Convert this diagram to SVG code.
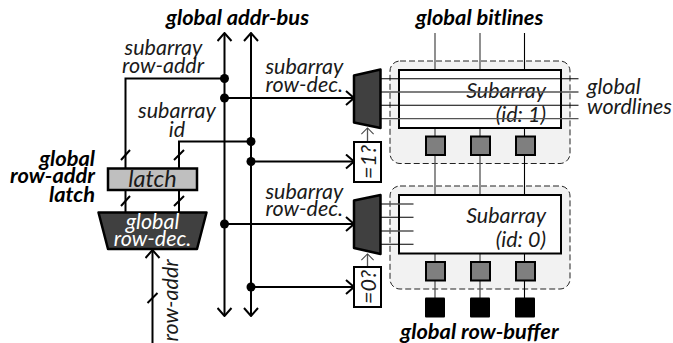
<svg xmlns="http://www.w3.org/2000/svg" width="673" height="343" viewBox="0 0 673 343">
<defs>
<style>
text{font-family:"Lato","Open Sans",sans-serif;font-style:italic;fill:#1a1a1a;font-size:21.500px}
.b{font-weight:700;fill:#000;font-size:21.800px}
.m{text-anchor:middle}.e{text-anchor:end}
.w{stroke:#000;stroke-width:2;fill:none}
.t{stroke:#000;stroke-width:1.1;fill:none}
.g{stroke:#555;stroke-width:1.3;fill:none}
.s{fill:#000;stroke:none}
.sa{fill:#f2f2f2;stroke:#222;stroke-width:1;stroke-dasharray:6 3}
.box{fill:#fff;stroke:#000;stroke-width:2}
.sq{fill:#7f7f7f;stroke:#000;stroke-width:2}
.mux{fill:#404040;stroke:#000;stroke-width:2.500;stroke-linejoin:round}
</style>
<marker id="a" viewBox="0 0 16 16" refX="15" refY="8" markerWidth="16" markerHeight="16" markerUnits="userSpaceOnUse" orient="auto-start-reverse"><path d="M7 1L15 8L7 15" fill="none" stroke="#000" stroke-width="2"/></marker>
<marker id="a2" viewBox="0 0 16 16" refX="15" refY="8" markerWidth="14" markerHeight="14" markerUnits="userSpaceOnUse" orient="auto"><path d="M8 1L15 8L8 15" fill="none" stroke="#444" stroke-width="1.2"/></marker>
</defs>
<g id="subarray-1-bg"><rect class="sa" x="390" y="61" width="180" height="102.500" rx="10"/></g>
<g id="subarray-0-bg"><rect class="sa" x="390" y="186" width="180" height="103" rx="10"/></g>
<g id="connectors">
<path class="w" d="M224.500 33V316" marker-start="url(#a)" marker-end="url(#a)"/>
<path class="w" d="M251 33V316" marker-start="url(#a)" marker-end="url(#a)"/>
<path class="w" d="M224.500 78.500H125.500V168"/>
<path class="w" d="M224.500 98H354" marker-end="url(#a)"/>
<path class="w" d="M251 141.500H179V168"/>
<path class="w" d="M251 161.500H354" marker-end="url(#a)"/>
<path class="w" d="M224.500 224H354" marker-end="url(#a)"/>
<path class="w" d="M251 287H354" marker-end="url(#a)"/>
<path class="w" d="M125.500 191V212M179 191V212"/>
<path class="w" d="M152.500 343V250" marker-end="url(#a)"/>
<path class="w" d="M121 160L130 150M174 160L184 150M121 206L130 196M174 206L184 196M147.500 303L157.500 293"/>
<path class="g" d="M367.500 141V128" marker-end="url(#a2)"/>
<path class="g" d="M367.500 266V254" marker-end="url(#a2)"/>
<path class="g" d="M435 33V70M435 128V136M435 155V195M435 254V262M435 281V298"/>
<path class="g" d="M480 33V70M480 128V136M480 155V195M480 254V262M480 281V298"/>
<path class="t" d="M524.500 33V70M524.500 128V136M524.500 155V195M524.500 254V262M524.500 281V298"/>
<circle class="s" cx="224.500" cy="78.500" r="4.500"/><circle class="s" cx="224.500" cy="98" r="4.500"/>
<circle class="s" cx="251" cy="141.500" r="4.500"/><circle class="s" cx="251" cy="161.500" r="4.500"/>
<circle class="s" cx="224.500" cy="224" r="4.500"/><circle class="s" cx="251" cy="287" r="4.500"/>
</g>
<g id="subarray-1"><rect class="box" x="399" y="70" width="162" height="58"/>
<text x="546" y="97.500" class="e">Subarray</text><text x="546" y="121.500" class="e">(id: 1)</text></g>
<g id="subarray-0"><rect class="box" x="399" y="195" width="162" height="58.500"/>
<text x="546" y="222.500" class="e">Subarray</text><text x="546" y="246.500" class="e">(id: 0)</text></g>
<g id="wordlines">
<path class="t" d="M381 78.700H578.500M381 105.300H578.500"/>
<path class="g" d="M381 92H578.500M381 118.700H578.500"/>
<path class="t" d="M381 217.300H413.500M381 244.300H413.500"/>
<path class="g" d="M381 204H413.500M381 231H413.500"/>
</g>
<g id="mux-1"><path class="mux" d="M354 75.500L380.500 69.500V128L354 122.500Z"/></g>
<g id="mux-0"><path class="mux" d="M354 200.500L380.500 195V254L354 248Z"/></g>
<g id="cmp-1"><rect class="box" x="354" y="142" width="27" height="40"/><text transform="translate(376,162) rotate(-90)" class="m">=1?</text></g>
<g id="cmp-0"><rect class="box" x="354" y="267" width="27" height="40"/><text transform="translate(376,287) rotate(-90)" class="m">=0?</text></g>
<g id="sense">
<rect class="sq" x="426" y="136.500" width="19" height="18.500"/><rect class="sq" x="471" y="136.500" width="19" height="18.500"/><rect class="sq" x="516" y="136.500" width="19" height="18.500"/>
<rect class="sq" x="426" y="262" width="19" height="18.500"/><rect class="sq" x="471" y="262" width="19" height="18.500"/><rect class="sq" x="516" y="262" width="19" height="18.500"/>
</g>
<g id="global-row-buffer">
<rect class="s" x="425" y="297.500" width="20" height="20" rx="1"/><rect class="s" x="470" y="297.500" width="20" height="20" rx="1"/><rect class="s" x="515" y="297.500" width="20" height="20" rx="1"/>
<text x="479.500" y="339" class="b m">global row-buffer</text></g>
<g id="latch"><rect x="108" y="168.500" width="89" height="21.500" fill="#bfbfbf" stroke="#000" stroke-width="2.500"/><text x="152.500" y="186.500" class="m" style="font-size:23.500px">latch</text></g>
<g id="global-row-dec"><path d="M98.500 212.500H206.500L197 249H108Z" fill="#404040" stroke="#000" stroke-width="2.500" stroke-linejoin="round"/>
<text x="152.500" y="229" class="m" style="fill:#fff">global</text><text x="152.500" y="246" class="m" style="fill:#fff">row-dec.</text></g>
<g id="labels">
<text x="237.500" y="25" class="b m">global addr-bus</text>
<text x="479.500" y="25" class="b m">global bitlines</text>
<text x="163.500" y="55" class="m">subarray</text><text x="163" y="73" class="m">row-addr</text>
<text x="177" y="118" class="m">subarray</text><text x="177" y="136.500" class="m">id</text>
<text x="265.500" y="74">subarray</text><text x="265.500" y="91.500">row-dec.</text>
<text x="265.500" y="199">subarray</text><text x="265.500" y="216">row-dec.</text>
<text x="95" y="165.500" class="b e">global</text><text x="95" y="183" class="b e">row-addr</text><text x="95" y="201.500" class="b e">latch</text>
<text x="587" y="94">global</text><text x="587" y="114">wordlines</text>
<text transform="translate(178,341.500) rotate(-90)">row-addr</text>
</g>
</svg>
